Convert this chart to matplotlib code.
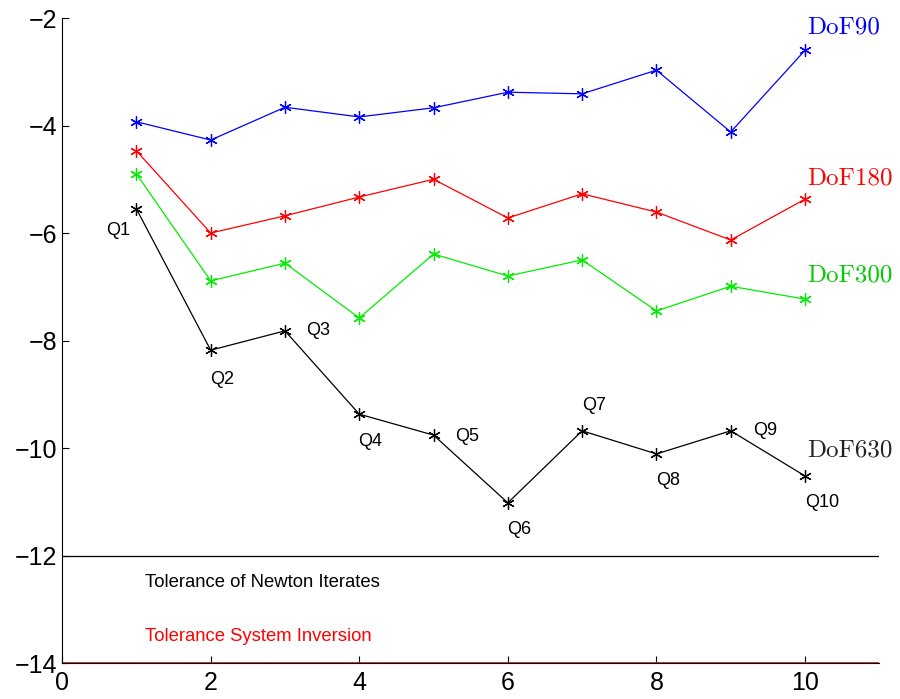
import numpy as np
import matplotlib
matplotlib.use("Agg")
import matplotlib.pyplot as plt

plt.rcParams['font.family'] = ['Liberation Sans', 'DejaVu Sans']
plt.rcParams['axes.unicode_minus'] = True

# data
iters = [1, 2, 3, 4, 5, 6, 7, 8, 9, 10]
dof90 = [-3.93, -4.27, -3.66, -3.84, -3.67, -3.38, -3.41, -2.97, -4.12, -2.60]
dof180 = [-4.47, -6.00, -5.68, -5.33, -5.00, -5.72, -5.27, -5.61, -6.13, -5.37]
dof300 = [-4.90, -6.89, -6.56, -7.58, -6.39, -6.80, -6.50, -7.45, -6.99, -7.23]
dof630 = [-5.55, -8.18, -7.82, -9.37, -9.76, -11.02, -9.68, -10.11, -9.68, -10.52]
q_labels = ['Q1', 'Q2', 'Q3', 'Q4', 'Q5', 'Q6', 'Q7', 'Q8', 'Q9', 'Q10']
q_pos = [(0.75, -5.96), (2.15, -8.73), (3.45, -7.82), (4.15, -9.87), (5.45, -9.79),
         (6.15, -11.51), (7.16, -9.20), (8.16, -10.61), (9.46, -9.68), (10.23, -11.02)]
tol_newton = -12
tol_inversion = -14

fig = plt.figure(figsize=(9, 6.99), dpi=100)
ax = fig.add_axes([0.069, 0.0515, 0.908, 0.9227])

star = (6, 2, 0)  # matlab style asterisk
ax.plot(iters, dof90, color='blue', marker=star, lw=0.9, ms=9, mew=0.9)
ax.plot(iters, dof180, color='red', marker=star, lw=0.9, ms=9, mew=0.9)
ax.plot(iters, dof300, color='#00ee00', marker=star, lw=0.9, ms=9, mew=0.9)
ax.plot(iters, dof630, color='black', marker=star, lw=0.9, ms=9, mew=0.9)

ax.plot([0, 11], [tol_newton, tol_newton], color='black', lw=0.9)
ax.plot([0, 11], [tol_inversion, tol_inversion], color='#cc2222', lw=2)

# Q labels on the DoF630 curve
for lab, (qx, qy) in zip(q_labels, q_pos):
    ax.text(qx, qy, lab, fontsize=13, ha='center', va='center')

# series names
ax.text(10.03, -2.17, 'DoF90', color='blue', fontsize=18, family='cmr10', ha='left', va='center')
ax.text(10.03, -4.99, 'DoF180', color='red', fontsize=18, family='cmr10', ha='left', va='center')
ax.text(10.03, -6.78, 'DoF300', color='#00cc00', fontsize=18, family='cmr10', ha='left', va='center')
ax.text(10.03, -10.04, 'DoF630', color='#222222', fontsize=18, family='cmr10', ha='left', va='center')

ax.text(1.12, -12.51, 'Tolerance of Newton Iterates', fontsize=13.3, ha='left', va='center')
ax.text(1.12, -13.50, 'Tolerance System Inversion', color='red', fontsize=13.3, ha='left', va='center')

ax.set_xlim(0, 11)
ax.set_ylim(-14, -2)
ax.set_xticks([0, 2, 4, 6, 8, 10])
ax.set_yticks([-14, -12, -10, -8, -6, -4, -2])
ax.tick_params(direction='in', labelsize=18, length=5)
ax.tick_params(axis='x', pad=6)
ax.spines['top'].set_visible(False)
ax.spines['right'].set_visible(False)

fig.savefig('out.png', dpi=100)
